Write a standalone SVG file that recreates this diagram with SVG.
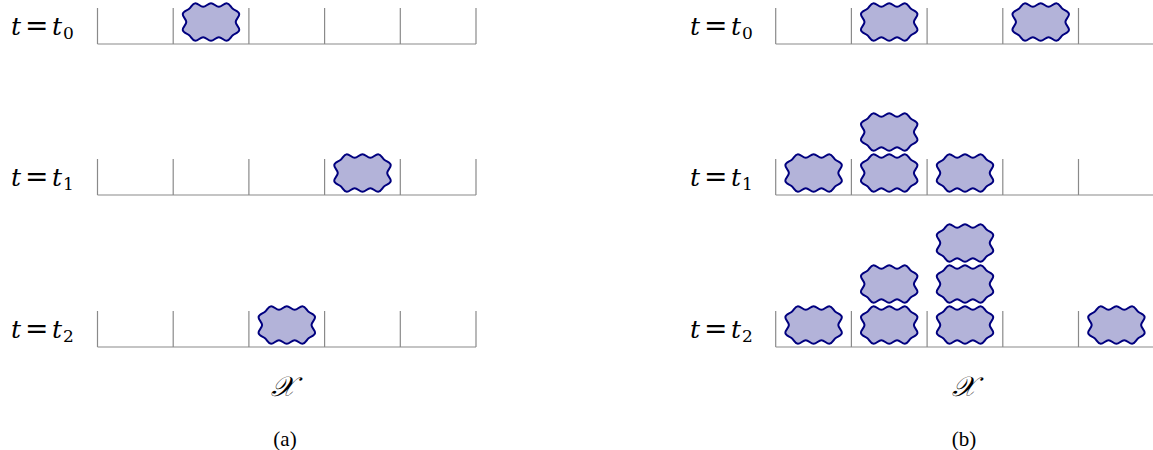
<svg xmlns="http://www.w3.org/2000/svg" xmlns:xlink="http://www.w3.org/1999/xlink" width="1153" height="450" viewBox="0 0 1153 450">
<style>
.grid{fill:none;stroke:#8a8a8a;stroke-width:1.2}
.blob{fill:#b3b3d9;stroke:#00007f;stroke-width:2;stroke-linejoin:round}
.lbl{font-family:"DejaVu Serif","Liberation Serif",serif;font-size:25px;fill:#000}
.it{font-style:italic}
.eq{font-size:28px}
.sub{font-size:17px}
.cap{font-family:"Liberation Serif","DejaVu Serif",serif;font-size:21px;fill:#000}
.cal{font-family:"DejaVu Serif","Noto Sans","Liberation Serif",serif;font-style:italic;font-size:28px;fill:#000}
</style>
<defs>
<path id="blob" class="blob" d="M24.7,0 C24.7,2.9 28.49,5.1 28.25,7.99 C28.01,10.88 24.01,11.39 21.8,13.26 C19.59,15.13 18.59,18.8 15.69,18.8 C12.79,18.8 10.75,15.2 7.85,15.2 C4.95,15.2 2.9,18.8 0,18.8 C-2.9,18.8 -4.95,15.2 -7.85,15.2 C-10.75,15.2 -12.79,18.8 -15.69,18.8 C-18.59,18.8 -19.59,15.13 -21.8,13.26 C-24.01,11.39 -28.01,10.88 -28.25,7.99 C-28.49,5.1 -24.7,2.9 -24.7,0 C-24.7,-2.9 -28.49,-5.1 -28.25,-7.99 C-28.01,-10.88 -24.01,-11.39 -21.8,-13.26 C-19.59,-15.13 -18.59,-18.8 -15.69,-18.8 C-12.79,-18.8 -10.75,-15.2 -7.85,-15.2 C-4.95,-15.2 -2.9,-18.8 0,-18.8 C2.9,-18.8 4.95,-15.2 7.85,-15.2 C10.75,-15.2 12.79,-18.8 15.69,-18.8 C18.59,-18.8 19.59,-15.13 21.8,-13.26 C24.01,-11.39 28.01,-10.88 28.25,-7.99 C28.49,-5.1 24.7,-2.9 24.7,0 Z"/>
</defs>
<g id="panel-a">
  <g id="a-row0">
    <text class="lbl" y="35"><tspan class="it" x="11">t</tspan><tspan class="eq" x="25">=</tspan><tspan class="it" x="52">t</tspan><tspan class="sub" x="63" dy="4">0</tspan></text>
    <path class="grid" d="M97.5,8V44M173.2,8V44M248.9,8V44M324.6,8V44M400.3,8V44M476,8V44M97.5,44H476"/>
    <use xlink:href="#blob" href="#blob" x="211" y="22"/>
  </g>
  <g id="a-row1">
    <text class="lbl" y="186"><tspan class="it" x="11">t</tspan><tspan class="eq" x="25">=</tspan><tspan class="it" x="52">t</tspan><tspan class="sub" x="63" dy="4">1</tspan></text>
    <path class="grid" d="M97.5,159V195M173.2,159V195M248.9,159V195M324.6,159V195M400.3,159V195M476,159V195M97.5,195H476"/>
    <use xlink:href="#blob" href="#blob" x="362.5" y="173"/>
  </g>
  <g id="a-row2">
    <text class="lbl" y="338"><tspan class="it" x="11">t</tspan><tspan class="eq" x="25">=</tspan><tspan class="it" x="52">t</tspan><tspan class="sub" x="63" dy="4">2</tspan></text>
    <path class="grid" d="M97.5,311V347M173.2,311V347M248.9,311V347M324.6,311V347M400.3,311V347M476,311V347M97.5,347H476"/>
    <use xlink:href="#blob" href="#blob" x="286.8" y="325"/>
  </g>
  <text class="cal" x="283" y="396" text-anchor="middle">𝒳</text>
  <text class="cap" x="285" y="446" text-anchor="middle">(a)</text>
</g>
<g id="panel-b">
  <g id="b-row0">
    <text class="lbl" y="35"><tspan class="it" x="690">t</tspan><tspan class="eq" x="704">=</tspan><tspan class="it" x="731">t</tspan><tspan class="sub" x="742" dy="4">0</tspan></text>
    <path class="grid" d="M775.7,8V44M851.4,8V44M927.1,8V44M1002.8,8V44M1078.5,8V44M775.7,44H1153"/>
    <use xlink:href="#blob" href="#blob" x="889.2" y="22"/>
    <use xlink:href="#blob" href="#blob" x="1040.7" y="22"/>
  </g>
  <g id="b-row1">
    <text class="lbl" y="186"><tspan class="it" x="690">t</tspan><tspan class="eq" x="704">=</tspan><tspan class="it" x="731">t</tspan><tspan class="sub" x="742" dy="4">1</tspan></text>
    <path class="grid" d="M775.7,159V195M851.4,159V195M927.1,159V195M1002.8,159V195M1078.5,159V195M775.7,195H1153"/>
    <use xlink:href="#blob" href="#blob" x="813.6" y="173"/>
    <use xlink:href="#blob" href="#blob" x="889.2" y="173"/>
    <use xlink:href="#blob" href="#blob" x="889.2" y="132"/>
    <use xlink:href="#blob" href="#blob" x="965" y="173"/>
  </g>
  <g id="b-row2">
    <text class="lbl" y="338"><tspan class="it" x="690">t</tspan><tspan class="eq" x="704">=</tspan><tspan class="it" x="731">t</tspan><tspan class="sub" x="742" dy="4">2</tspan></text>
    <path class="grid" d="M775.7,311V347M851.4,311V347M927.1,311V347M1002.8,311V347M1078.5,311V347M775.7,347H1153"/>
    <use xlink:href="#blob" href="#blob" x="813.6" y="325"/>
    <use xlink:href="#blob" href="#blob" x="889.2" y="325"/>
    <use xlink:href="#blob" href="#blob" x="889.2" y="284"/>
    <use xlink:href="#blob" href="#blob" x="965" y="325"/>
    <use xlink:href="#blob" href="#blob" x="965" y="284"/>
    <use xlink:href="#blob" href="#blob" x="965" y="243"/>
    <use xlink:href="#blob" href="#blob" x="1116.4" y="325"/>
  </g>
  <text class="cal" x="964" y="396" text-anchor="middle">𝒳</text>
  <text class="cap" x="964" y="446" text-anchor="middle">(b)</text>
</g>
</svg>
